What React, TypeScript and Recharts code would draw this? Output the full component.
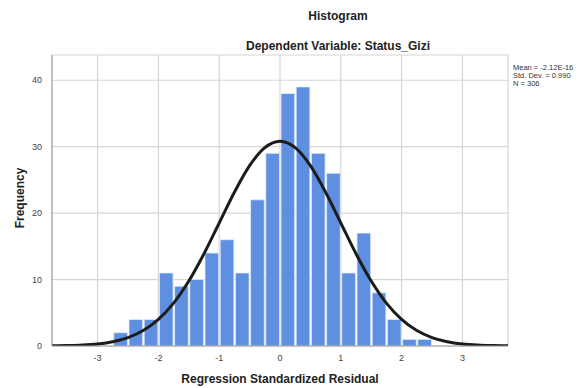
import React from 'react';
import {
  ComposedChart,
  Bar,
  Line,
  XAxis,
  YAxis,
  CartesianGrid
} from 'recharts';

// bin midpoints (width 0.25) spanning the whole x range
const binMids = [
  -3.625, -3.375, -3.125, -2.875, -2.625, -2.375, -2.125, -1.875, -1.625, -1.375,
  -1.125, -0.875, -0.625, -0.375, -0.125, 0.125, 0.375, 0.625, 0.875, 1.125,
  1.375, 1.625, 1.875, 2.125, 2.375, 2.625, 2.875, 3.125, 3.375, 3.625
];
const binCounts = [
  0, 0, 0, 0, 2, 4, 4, 11, 9, 10,
  14, 16, 11, 22, 29, 38, 39, 29, 26, 11,
  17, 8, 4, 1, 1, 0, 0, 0, 0, 0
];

// normal curve
const curveX = [
  -3.75, -3.5, -3.25, -3, -2.75, -2.5, -2.25, -2, -1.75, -1.5, -1.25, -1, -0.75, -0.5, -0.25, 0,
  0.25, 0.5, 0.75, 1, 1.25, 1.5, 1.75, 2, 2.25, 2.5, 2.75, 3, 3.25, 3.5, 3.75
];
const curveY = [
  0.02, 0.06, 0.14, 0.31, 0.65, 1.27, 2.33, 4.01, 6.46, 9.78, 13.89, 18.51, 23.14, 27.14, 29.86, 30.83,
  29.86, 27.14, 23.14, 18.51, 13.89, 9.78, 6.46, 4.01, 2.33, 1.27, 0.65, 0.31, 0.14, 0.06, 0.02
];

const xTicks = [-3, -2, -1, 0, 1, 2, 3];
const yTicks = [0, 10, 20, 30, 40];

const statsLines = ['Mean = -2.12E-16', 'Std. Dev. = 0.990', 'N = 306'];

const font = '"Liberation Sans", Arial, sans-serif';

const App: React.FC = () => {
  const binData = binMids.map((bin, i) => ({ bin, count: binCounts[i] }));
  const curveData = curveX.map((x, i) => ({ x, y: curveY[i] }));

  return (
    <div style={{ position: 'absolute', left: 0, top: 0, width: 580, height: 388, background: '#fff', fontFamily: font, overflow: 'hidden' }}>
      <ComposedChart
        width={580}
        height={388}
        data={binData}
        margin={{ top: 55, right: 72, left: 0, bottom: 0 }}
      >
        <CartesianGrid xAxisId="num" stroke="#d6d6d6" strokeWidth={1.2} />
        {/* hidden band axis for the histogram bars, kept on top so it doesn't stack */}
        <XAxis xAxisId="bins" dataKey="bin" type="category" orientation="top" hide height={0} />
        <XAxis
          xAxisId="num"
          dataKey="x"
          type="number"
          domain={[-3.75, 3.75]}
          ticks={xTicks}
          allowDataOverflow
          height={42}
          tickLine={false}
          axisLine={{ stroke: '#999' }}
          tick={{ fontSize: 9, fill: '#444', fontFamily: font }}
          tickMargin={3}
        />
        <YAxis
          domain={[0, 43.8]}
          ticks={yTicks}
          allowDataOverflow
          width={52}
          tickLine={false}
          axisLine={{ stroke: '#999' }}
          tick={{ fontSize: 9, fill: '#444', fontFamily: font }}
          tickMargin={4}
        />
        <Bar
          xAxisId="bins"
          dataKey="count"
          fill="#5e8fe0"
          stroke="#e4ecfa"
          strokeWidth={0.8}
          barSize={15.2}
          isAnimationActive={false}
        />
        <Line
          xAxisId="num"
          data={curveData}
          dataKey="y"
          type="monotone"
          stroke="#1c1c1c"
          strokeWidth={3}
          dot={false}
          isAnimationActive={false}
        />
      </ComposedChart>

      <div style={{ position: 'absolute', left: 0, width: 676, top: 9, textAlign: 'center', fontSize: 12, fontWeight: 'bold', color: '#222' }}>
        Histogram
      </div>
      <div style={{ position: 'absolute', left: 0, width: 676, top: 39, textAlign: 'center', fontSize: 12, fontWeight: 'bold', color: '#222' }}>
        Dependent Variable: Status_Gizi
      </div>
      <div style={{ position: 'absolute', left: 0, width: 560, top: 372, textAlign: 'center', fontSize: 12, fontWeight: 'bold', color: '#222' }}>
        Regression Standardized Residual
      </div>
      <div style={{ position: 'absolute', left: 20, top: 198, transform: 'translate(-50%, -50%) rotate(-90deg)', fontSize: 12, fontWeight: 'bold', color: '#222', whiteSpace: 'nowrap' }}>
        Frequency
      </div>
      <div style={{ position: 'absolute', left: 513, top: 64, fontSize: 7.5, lineHeight: '8px', color: '#333', whiteSpace: 'nowrap' }}>
        {statsLines.map((s) => (
          <div key={s}>{s}</div>
        ))}
      </div>
    </div>
  );
};

export default App;
